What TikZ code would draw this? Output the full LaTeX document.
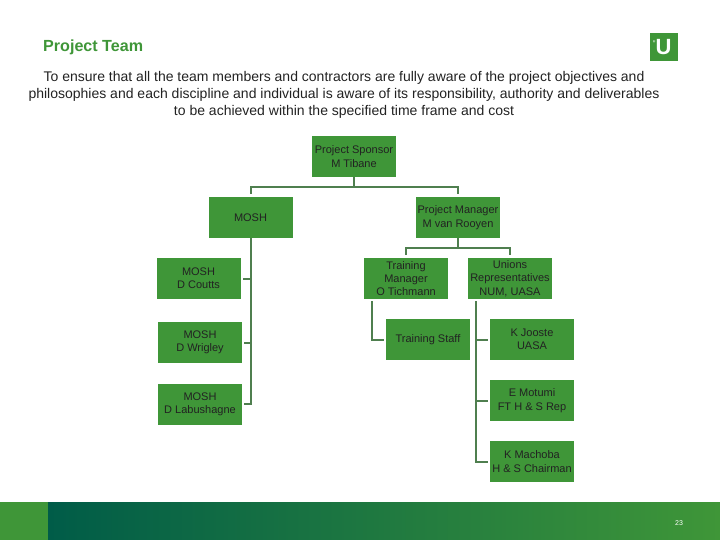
\documentclass[tikz,border=0pt]{standalone}
\usepackage{fontspec}
\setmainfont{Liberation Sans}
\usetikzlibrary{calc}
\definecolor{teamgreen}{HTML}{3F9638}
\definecolor{linegreen}{HTML}{4F7F4F}
\definecolor{darkteal}{HTML}{005C48}
\definecolor{boxtext}{HTML}{222222}
\tikzset{
  teambox/.style={fill=teamgreen,text=boxtext,minimum width=84pt,minimum height=41pt,
    inner sep=0pt,align=center,font=\fontsize{11}{13.4}\selectfont},
  conn/.style={draw=linegreen,line width=2pt},
  intro/.style={inner sep=0pt,text=boxtext,font=\fontsize{14}{16}\selectfont},
}

\begin{document}
\begin{tikzpicture}[x=1pt,y=-1pt]
  \useasboundingbox (0,0) rectangle (720,540);

  % Footer band
  \fill[teamgreen] (0,502) rectangle (48,540);
  \shade[left color=darkteal,right color=teamgreen] (48,502) rectangle (720,540);
  \node[text=white,inner sep=0pt,font=\fontsize{7}{8}\selectfont] (pagenum) at (679,523.5) {23};

  % Logo
  \fill[teamgreen] (649.5,33) rectangle (678,61);
  \node[text=white,inner sep=0pt,font=\fontsize{22}{22}\bfseries\selectfont] (logo) at (663.5,47.5) {U};
  \node[text=white,inner sep=0pt,font=\fontsize{8}{8}\selectfont] (logomark) at (654.3,44) {''};

  % Heading and intro text
  \node[anchor=west,inner sep=0pt,text=teamgreen,font=\fontsize{16.1}{17}\bfseries\selectfont] (heading) at (43,47.5) {Project Team};
  \node[intro] (introa) at (344,77.5) {To ensure that all the team members and contractors are fully aware of the project objectives and};
  \node[intro] (introb) at (344,94.5) {philosophies and each discipline and individual is aware of its responsibility, authority and deliverables};
  \node[intro] (introc) at (344,111.5) {to be achieved within the specified time frame and cost};

  % Top of the chart
  \node[teambox] (sponsor) at (354,156.5) {Project Sponsor\\M Tibane};
  \node[teambox] (mosh) at (250.5,217.5) {MOSH};
  \node[teambox] (manager) at (458,217.5) {Project Manager\\M van Rooyen};

  % Left column
  \node[teambox] (coutts) at (198.5,278.5) {MOSH\\D Coutts};
  \node[teambox] (wrigley) at (200,342.5) {MOSH\\D Wrigley};
  \node[teambox] (labushagne) at (200,404) {MOSH\\D Labushagne};

  % Right columns
  \node[teambox] (training) at (406,278.5) {Training\\Manager\\O Tichmann};
  \node[teambox] (unions) at (510,278.5) {Unions\\Representatives\\NUM, UASA};
  \node[teambox] (staff) at (428,339.5) {Training Staff};
  \node[teambox] (jooste) at (532,339.5) {K Jooste\\UASA};
  \node[teambox] (motumi) at (532,400.5) {E Motumi\\FT H \& S Rep};
  \node[teambox] (machoba) at (532,461.5) {K Machoba\\H \& S Chairman};

  % Rails
  \coordinate (trainrail) at (372,300);
  \coordinate (unionrail) at (476,300);

  % Connectors
  \draw[conn,shorten >=2.5pt] (sponsor.south) -- ++(0,10) -| (mosh.north);
  \draw[conn,shorten >=2.5pt] (sponsor.south) -- ++(0,10) -| (manager.north);
  \draw[conn,shorten >=2.5pt] (manager.south) -- ++(0,9.5) -| (training.north);
  \draw[conn,shorten >=2.5pt] (manager.south) -- ++(0,9.5) -| (unions.north);

  \draw[conn,shorten >=2pt] (mosh.south) |- (labushagne.east);
  \draw[conn,shorten >=2pt] (mosh.south |- coutts.east) -- (coutts.east);
  \draw[conn,shorten >=2pt] (mosh.south |- wrigley.east) -- (wrigley.east);

  \draw[conn,shorten <=1pt,shorten >=2pt] (trainrail) |- (staff.west);
  \draw[conn,shorten <=1pt,shorten >=2pt] (unionrail) |- (machoba.west);
  \draw[conn,shorten >=2pt] (unionrail |- jooste.west) -- (jooste.west);
  \draw[conn,shorten >=2pt] (unionrail |- motumi.west) -- (motumi.west);
\end{tikzpicture}
\end{document}
